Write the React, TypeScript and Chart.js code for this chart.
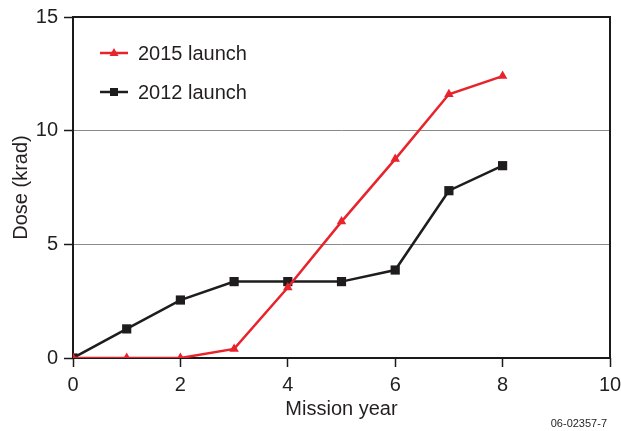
import React, { useEffect, useRef } from "react";
import { Chart, registerables } from "chart.js";

Chart.register(...registerables);

const years = [0, 1, 2, 3, 4, 5, 6, 7, 8];
const dose2015 = [0, 0, 0, 0.4, 3.1, 6.0, 8.75, 11.6, 12.4];
const dose2012 = [0, 1.28, 2.55, 3.36, 3.36, 3.36, 3.87, 7.36, 8.46];
const seriesLabels = ["2015 launch", "2012 launch"];
const xTitle = "Mission year";
const yTitle = "Dose (krad)";
const footerText = "06-02357-7";

const FONT = "'Liberation Sans', Arial, Helvetica, sans-serif";
const TEXT = "#231f20";
const RED = "#e8232b";
const BLACK = "#1e1c1d";

const framePlugin = {
  id: "frame",
  beforeDatasetsDraw(chart: any) {
    const { ctx, chartArea } = chart;
    ctx.save();
    ctx.strokeStyle = "#1a1a1a";
    ctx.lineWidth = 2;
    ctx.strokeRect(chartArea.left, chartArea.top, chartArea.right - chartArea.left, chartArea.bottom - chartArea.top);
    ctx.restore();
  },
};

const legendPlugin = {
  id: "insideLegend",
  afterDraw(chart: any) {
    const { ctx, chartArea } = chart;
    ctx.save();
    const rows = [36, 75];
    chart.data.datasets.forEach((ds: any, i: number) => {
      const y = chartArea.top + rows[i];
      const x0 = chartArea.left + 27;
      const x1 = x0 + 28;
      ctx.strokeStyle = ds.borderColor;
      ctx.lineWidth = 2.5;
      ctx.beginPath();
      ctx.moveTo(x0, y);
      ctx.lineTo(x1, y);
      ctx.stroke();
      ctx.fillStyle = ds.borderColor;
      if (ds.pointStyle === "triangle") {
        ctx.beginPath();
        ctx.moveTo(x0 + 14, y - 5);
        ctx.lineTo(x0 + 18.5, y + 3);
        ctx.lineTo(x0 + 9.5, y + 3);
        ctx.closePath();
        ctx.fill();
      } else {
        ctx.fillRect(x0 + 10, y - 4, 8, 8);
      }
      ctx.fillStyle = TEXT;
      ctx.font = `20px ${FONT}`;
      ctx.textBaseline = "middle";
      ctx.textAlign = "left";
      ctx.fillText(ds.label, x1 + 10, y + 1);
    });
    ctx.font = `11px ${FONT}`;
    ctx.textAlign = "right";
    ctx.textBaseline = "middle";
    ctx.fillStyle = TEXT;
    ctx.fillText(footerText, 607, 424);
    ctx.restore();
  },
};

export default function App() {
  const ref = useRef<HTMLCanvasElement>(null);
  useEffect(() => {
    document.body.style.margin = "0";
    const chart = new Chart(ref.current!, {
      type: "line",
      data: {
        datasets: [
          {
            label: seriesLabels[0],
            data: years.map((x, i) => ({ x, y: dose2015[i] })),
            borderColor: RED,
            backgroundColor: RED,
            borderWidth: 2.5,
            pointStyle: "triangle",
            pointRadius: 5.5,
            pointBorderWidth: 0,
            tension: 0,
          },
          {
            label: seriesLabels[1],
            data: years.map((x, i) => ({ x, y: dose2012[i] })),
            borderColor: BLACK,
            backgroundColor: BLACK,
            borderWidth: 2.5,
            pointStyle: "rect",
            pointRadius: 6.5,
            pointBorderWidth: 0,
            tension: 0,
          },
        ],
      },
      options: {
        animation: false,
        responsive: false,
        devicePixelRatio: 1,
        layout: { padding: { top: 17, right: 11, left: 0, bottom: 0 } },
        plugins: { legend: { display: false }, tooltip: { enabled: false } },
        scales: {
          x: {
            type: "linear",
            min: 0,
            max: 10,
            ticks: { stepSize: 2, color: TEXT, font: { family: FONT, size: 20 }, padding: 6, maxRotation: 0 },
            grid: { drawOnChartArea: false, drawTicks: true, tickLength: 9, tickColor: "#1a1a1a", tickWidth: 1.5 },
            border: { display: false },
            title: { display: true, text: xTitle, color: TEXT, font: { family: FONT, size: 20 }, padding: { top: 0, bottom: 10 } },
            afterFit: (s: any) => { s.height = 73; s.paddingRight = 0; s.paddingLeft = 0; },
          },
          y: {
            min: 0,
            max: 15,
            ticks: { stepSize: 5, color: TEXT, font: { family: FONT, size: 20 }, padding: 6 },
            grid: { color: "#8a8a8a", lineWidth: 1, tickLength: 9, tickColor: "#1a1a1a", tickWidth: 1.5 },
            border: { display: false },
            title: { display: true, text: yTitle, color: TEXT, font: { family: FONT, size: 20 }, padding: { top: 9, bottom: 0 } },
            afterFit: (s: any) => { s.width = 73; s.paddingTop = 0; s.paddingBottom = 0; },
          },
        },
      },
      plugins: [framePlugin, legendPlugin],
    });
    return () => chart.destroy();
  }, []);
  return (
    <div style={{ position: "absolute", left: 0, top: 0, width: 621, height: 431, background: "#fff" }}>
      <canvas ref={ref} width={621} height={431} style={{ display: "block" }} />
    </div>
  );
}
